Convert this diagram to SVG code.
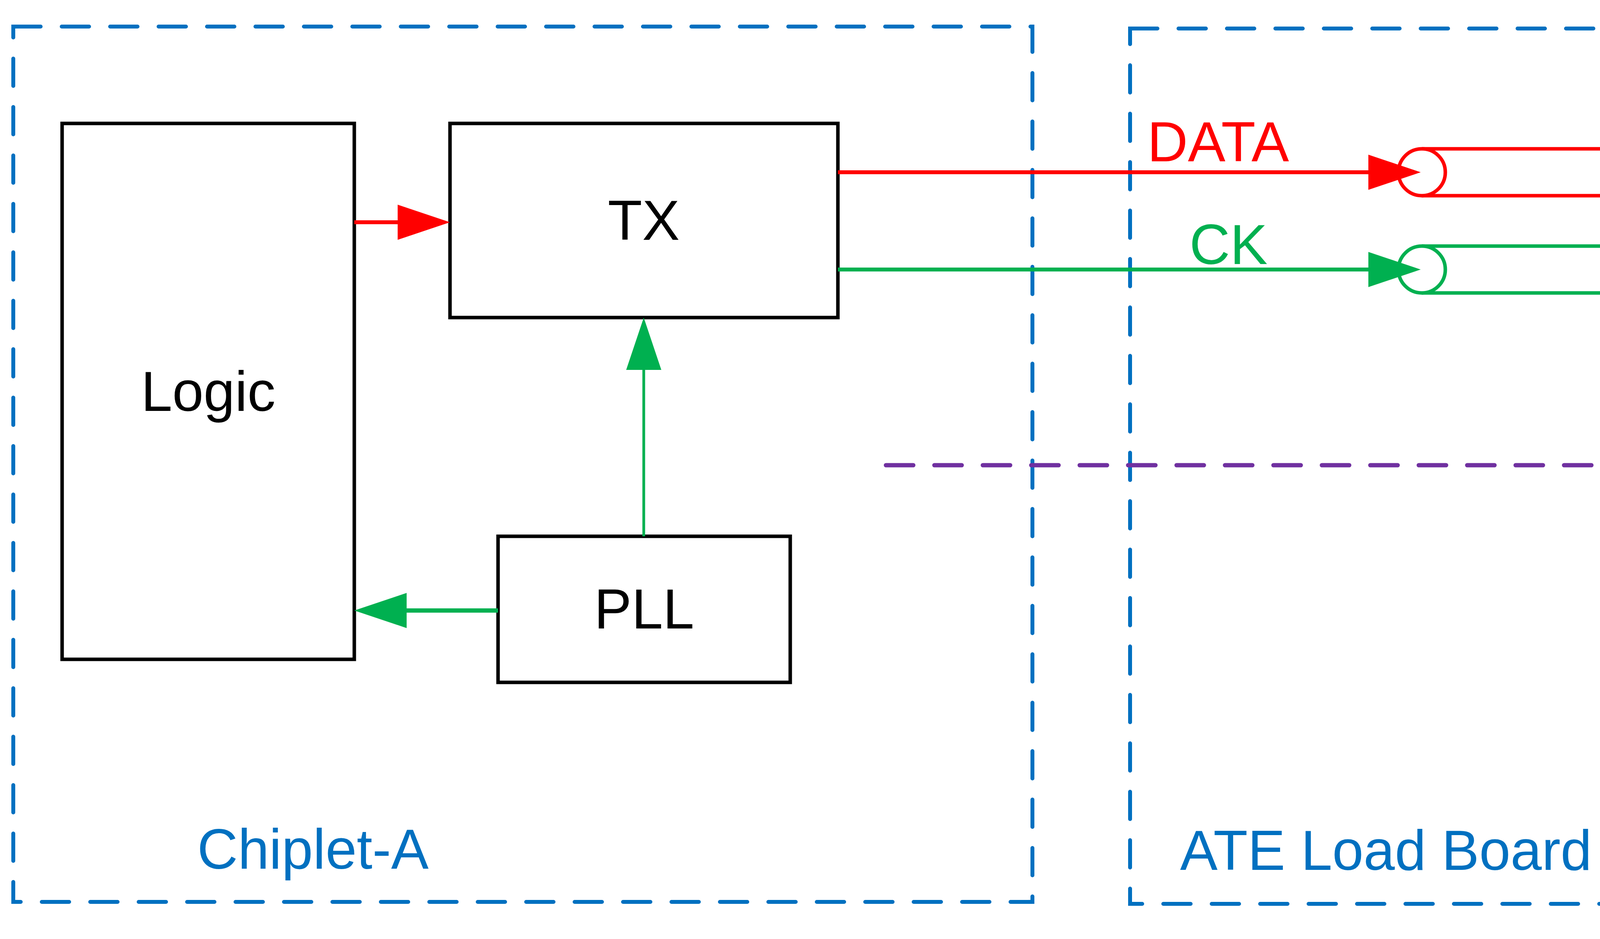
<svg xmlns="http://www.w3.org/2000/svg" width="7904" height="2404" viewBox="0 0 7904 2404">
  <style>
    .frame { fill: none; stroke: #0070C0; stroke-width: 10; stroke-dasharray: 70 54; stroke-linecap: round; }
    .box { fill: #FFFFFF; stroke: #000000; stroke-width: 9; }
    .lbl { font-family: "Liberation Sans", Arial, sans-serif; font-size: 144px; fill: #000000; text-anchor: middle; }
    .grp { font-family: "Liberation Sans", Arial, sans-serif; font-size: 144px; fill: #0070C0; }
    .red { stroke: #FF0000; fill: none; }
    .green { stroke: #00B050; fill: none; }
    .cyl { fill: #FFFFFF; stroke-width: 9; }
  </style>
  <defs>
    <marker id="arrRed" markerUnits="userSpaceOnUse" viewBox="0 0 134 90" refX="10" refY="45" markerWidth="134" markerHeight="90" orient="auto">
      <path d="M0,0 L134,45 L0,90 Z" fill="#FF0000"/>
    </marker>
    <marker id="arrGreen" markerUnits="userSpaceOnUse" viewBox="0 0 134 90" refX="10" refY="45" markerWidth="134" markerHeight="90" orient="auto">
      <path d="M0,0 L134,45 L0,90 Z" fill="#00B050"/>
    </marker>
    <marker id="arrPurple" markerUnits="userSpaceOnUse" viewBox="0 0 134 90" refX="10" refY="45" markerWidth="134" markerHeight="90" orient="auto">
      <path d="M0,0 L134,45 L0,90 Z" fill="#7030A0"/>
    </marker>
  </defs>
  <rect width="7904" height="2404" fill="#FFFFFF"/>

  <g id="chiplet-a">
    <rect class="frame" x="34" y="68" width="2609" height="2241"/>
    <text class="grp" x="505" y="2224">Chiplet-A</text>
  </g>
  <g id="ate-load-board">
    <rect class="frame" x="2893" y="73" width="4971" height="2241"/>
    <text class="grp" x="3021" y="2227">ATE Load Board</text>
  </g>

  <g id="logic-a">
    <rect class="box" x="159" y="316" width="748" height="1372"/>
    <text class="lbl" x="533" y="1052">Logic</text>
  </g>
  <g id="tx">
    <rect class="box" x="1152" y="316" width="993" height="497"/>
    <text class="lbl" x="1648" y="614">TX</text>
  </g>
  <g id="pll">
    <rect class="box" x="1275" y="1373" width="748" height="374"/>
    <text class="lbl" x="1649" y="1609">PLL</text>
  </g>
  <g id="golden-rx">
    <rect class="box" x="5751" y="197" width="994" height="766"/>
    <text class="lbl" x="6248" y="428">Golden</text>
    <text class="lbl" x="6248" y="629">Reference</text>
    <text class="lbl" x="6248" y="826">RX</text>
  </g>
  <g id="logic-b">
    <rect class="box" x="6989" y="197" width="751" height="1492"/>
    <text class="lbl" x="7364" y="992">Logic</text>
  </g>

  <g id="cable-data">
    <path class="cyl red" d="M3640,381 L4329,381 A58,60 0 0 1 4329,501 L3640,501"/>
    <ellipse class="cyl red" cx="3640" cy="441" rx="60" ry="60"/>
  </g>
  <g id="cable-ck">
    <path class="cyl green" d="M3640,630 L4329,630 A58,60 0 0 1 4329,750 L3640,750"/>
    <ellipse class="cyl green" cx="3640" cy="690" rx="60" ry="60"/>
  </g>

  <g id="connectors">
    <line class="red" x1="907" y1="569" x2="1028" y2="569" stroke-width="10" marker-end="url(#arrRed)"/>
    <line class="green" x1="1648" y1="1373" x2="1648" y2="937" stroke-width="7" marker-end="url(#arrGreen)"/>
    <line class="green" x1="1275" y1="1563" x2="1031" y2="1563" stroke-width="11" marker-end="url(#arrGreen)"/>
    <line class="red" x1="2145" y1="441" x2="3513" y2="441" stroke-width="10" marker-end="url(#arrRed)"/>
    <line class="red" x1="4387" y1="441" x2="5627" y2="441" stroke-width="10" marker-end="url(#arrRed)"/>
    <line class="green" x1="2145" y1="690" x2="3513" y2="690" stroke-width="10" marker-end="url(#arrGreen)"/>
    <line class="green" x1="4387" y1="690" x2="5627" y2="690" stroke-width="10" marker-end="url(#arrGreen)"/>
    <line class="red" x1="6745" y1="444" x2="6865" y2="444" stroke-width="8" marker-end="url(#arrRed)"/>
    <line class="green" x1="6745" y1="693" x2="6865" y2="693" stroke-width="9" marker-end="url(#arrGreen)"/>
    <line x1="2268" y1="1191" x2="4632" y2="1191" stroke="#7030A0" stroke-width="11" stroke-dasharray="70 54" stroke-linecap="round" marker-end="url(#arrPurple)"/>
  </g>

  <g id="labels">
    <text x="2937" y="413" font-family="'Liberation Sans', Arial, sans-serif" font-size="144" fill="#FF0000">DATA</text>
    <text x="3045" y="676" font-family="'Liberation Sans', Arial, sans-serif" font-size="144" fill="#00B050">CK</text>
  </g>
</svg>
